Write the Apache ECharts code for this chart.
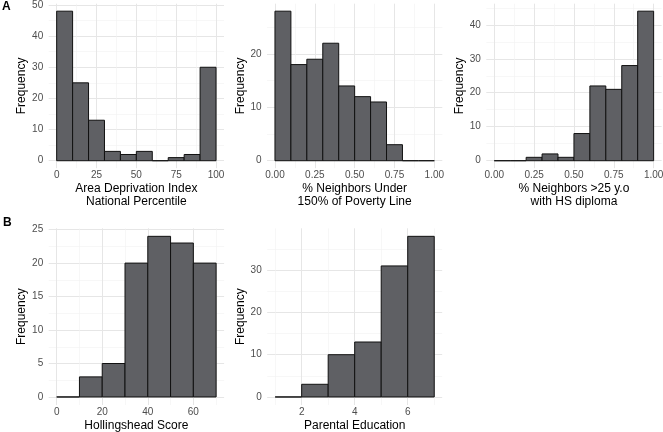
<!DOCTYPE html>
<html><head><meta charset="utf-8">
<script src="https://cdn.jsdelivr.net/npm/echarts@6.0.0/dist/echarts.min.js"></script>
<style>html,body{margin:0;padding:0;background:#fff}#chart{width:663px;height:432px}</style>
</head><body><div id="chart"></div>
<script>
// ---- data ----
const adiBinStart = [0, 10, 20, 30, 40, 50, 60, 70, 80, 90];
const adiCounts   = [48, 25, 13, 3, 2, 3, 0, 1, 2, 30];
const adiBinWidth = 10;
const adiXTicks   = [0, 25, 50, 75, 100];
const adiYTicks   = [0, 10, 20, 30, 40, 50];

const povBinStart = [0, 0.1, 0.2, 0.3, 0.4, 0.5, 0.6, 0.7, 0.8, 0.9];
const povCounts   = [28, 18, 19, 22, 14, 12, 11, 3, 0, 0];
const povBinWidth = 0.1;
const povXTicks   = [0, 0.25, 0.5, 0.75, 1];
const povYTicks   = [0, 10, 20];

const hsBinStart  = [0, 0.1, 0.2, 0.3, 0.4, 0.5, 0.6, 0.7, 0.8, 0.9];
const hsCounts    = [0, 0, 1, 2, 1, 8, 22, 21, 28, 44];
const hsBinWidth  = 0.1;
const hsXTicks    = [0, 0.25, 0.5, 0.75, 1];
const hsYTicks    = [0, 10, 20, 30, 40];

const hollBinStart = [0, 10, 20, 30, 40, 50, 60];
const hollCounts   = [0, 3, 5, 20, 24, 23, 20];
const hollBinWidth = 10;
const hollXTicks   = [0, 20, 40, 60];
const hollYTicks   = [0, 5, 10, 15, 20, 25];

const eduBinStart = [1, 2, 3, 4, 5, 6];
const eduCounts   = [0, 3, 10, 13, 31, 38];
const eduBinWidth = 1;
const eduXTicks   = [2, 4, 6];
const eduYTicks   = [0, 10, 20, 30];

// ---- layout / style ----
const FONT = '"Liberation Sans", Arial, Helvetica, sans-serif';
const fmt2 = v => v.toFixed(2);
const fmt0 = v => String(v);
const panels = [
  {left: 48.7, top: 3.7, width: 175.3, height: 164.5, starts: adiBinStart, counts: adiCounts, bw: adiBinWidth,
   xt: adiXTicks, yt: adiYTicks, fmt: fmt0, xName: 'Area Deprivation Index\nNational Percentile'},
  {left: 267.0, top: 3.7, width: 175.3, height: 164.5, starts: povBinStart, counts: povCounts, bw: povBinWidth,
   xt: povXTicks, yt: povYTicks, fmt: fmt2, xName: '% Neighbors Under\n150% of Poverty Line'},
  {left: 486.3, top: 3.7, width: 175.3, height: 164.5, starts: hsBinStart, counts: hsCounts, bw: hsBinWidth,
   xt: hsXTicks, yt: hsYTicks, fmt: fmt2, xName: '% Neighbors >25 y.o\nwith HS diploma'},
  {left: 48.7, top: 228.3, width: 175.4, height: 176.7, starts: hollBinStart, counts: hollCounts, bw: hollBinWidth,
   xt: hollXTicks, yt: hollYTicks, fmt: fmt0, xName: 'Hollingshead Score'},
  {left: 267.2, top: 228.3, width: 175.0, height: 176.7, starts: eduBinStart, counts: eduCounts, bw: eduBinWidth,
   xt: eduXTicks, yt: eduYTicks, fmt: fmt0, xName: 'Parental Education'}
];

function minorsOf(majors, lo, hi) {
  const step = majors[1] - majors[0];
  const out = [majors[0] - step / 2].concat(majors.map(v => v + step / 2));
  return out.filter(v => v >= lo && v <= hi);
}

function renderBar(params, api) {
  const a = api.coord([api.value(0), api.value(2)]);
  const b = api.coord([api.value(1), 0]);
  return {
    type: 'rect',
    shape: {x: a[0], y: a[1], width: b[0] - a[0], height: b[1] - a[1]},
    style: {fill: '#5f6064', stroke: '#111111', lineWidth: 1}
  };
}

const option = {
  animation: false,
  backgroundColor: '#ffffff',
  textStyle: {fontFamily: FONT},
  grid: [], xAxis: [], yAxis: [], series: [],
  graphic: [
    {type: 'text', left: 2, top: 1, style: {text: 'A', font: 'bold 12px ' + FONT, fill: '#000'}},
    {type: 'text', left: 3, top: 216.5, style: {text: 'B', font: 'bold 12px ' + FONT, fill: '#000'}}
  ]
};

const majorLine = {show: true, lineStyle: {color: '#e6e6e6', width: 1}};
const minorLine = {show: true, lineStyle: {color: '#f1f1f1', width: 0.6}};
const labelStyle = {color: '#4d4d4d', fontSize: 10, fontFamily: FONT};

panels.forEach((p, i) => {
  option.grid.push({left: p.left, top: p.top, width: p.width, height: p.height,
                    containLabel: false, outerBoundsMode: 'none'});
  const x0 = p.starts[0], x1 = p.starts[p.starts.length - 1] + p.bw;
  const xr = x1 - x0;
  const xmin = x0 - 0.05 * xr, xmax = x1 + 0.05 * xr;
  const ymaxData = Math.max(...p.counts);
  const ymin = -0.05 * ymaxData, ymax = 1.05 * ymaxData;

  const xi = option.xAxis.length, yi = option.yAxis.length;
  // major x axis (labels, title, major grid)
  option.xAxis.push({
    type: 'value', gridIndex: i, min: xmin, max: xmax, position: 'bottom',
    axisLine: {show: false, onZero: false},
    axisTick: {show: false, customValues: p.xt},
    axisLabel: Object.assign({customValues: p.xt, margin: 2.5, formatter: p.fmt}, labelStyle),
    splitLine: majorLine,
    name: p.xName, nameLocation: 'middle', nameGap: 14.5,
    nameTextStyle: {color: '#000', fontSize: 12, lineHeight: 12.5, fontFamily: FONT, verticalAlign: 'top'}
  });
  // minor x axis
  option.xAxis.push({
    type: 'value', gridIndex: i, min: xmin, max: xmax, position: 'bottom',
    axisLine: {show: false, onZero: false},
    axisTick: {show: false, customValues: minorsOf(p.xt, xmin, xmax)},
    axisLabel: {show: false},
    splitLine: minorLine
  });
  option.yAxis.push({
    type: 'value', gridIndex: i, min: ymin, max: ymax, position: 'left',
    axisLine: {show: false, onZero: false},
    axisTick: {show: false, customValues: p.yt},
    axisLabel: Object.assign({customValues: p.yt, margin: 5.5}, labelStyle),
    splitLine: majorLine,
    name: 'Frequency', nameLocation: 'middle', nameGap: 19.5,
    nameTextStyle: {color: '#000', fontSize: 12, fontFamily: FONT}
  });
  option.yAxis.push({
    type: 'value', gridIndex: i, min: ymin, max: ymax, position: 'left',
    axisLine: {show: false, onZero: false},
    axisTick: {show: false, customValues: minorsOf(p.yt, ymin, ymax)},
    axisLabel: {show: false},
    splitLine: minorLine
  });
  option.series.push({
    type: 'custom', xAxisIndex: xi, yAxisIndex: yi, renderItem: renderBar, clip: false,
    data: p.starts.map((s, k) => [s, s + p.bw, p.counts[k]])
  });
});

const chart = echarts.init(document.getElementById('chart'), null, {renderer: 'canvas'});
chart.setOption(option);
</script>
</body></html>
